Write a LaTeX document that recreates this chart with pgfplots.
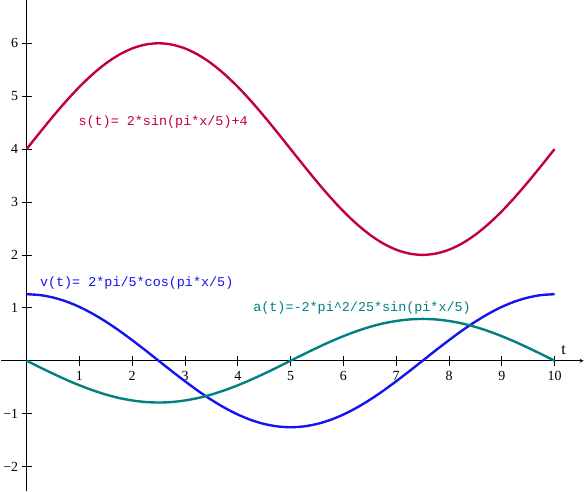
\documentclass[border=0pt]{standalone}
\usepackage{pgfplots}
\pgfplotsset{compat=1.18}
\usepackage{fontspec}
\setmainfont{Liberation Serif}
\setmonofont{Liberation Mono}
\definecolor{scol}{RGB}{192,0,64}
\definecolor{vcol}{RGB}{20,20,240}
\definecolor{acol}{RGB}{0,128,128}
\begin{document}
\begin{tikzpicture}
\begin{axis}[
  scale only axis, width=584bp, height=492bp,
  axis lines=middle,
  xmin=-0.49, xmax=10.55, ymin=-2.47, ymax=6.81,
  x axis line style={-stealth, thick},
  y axis line style={-, thick},
  xtick={1,...,10}, ytick={-2,-1,1,2,3,4,5,6},
  yticklabels={−2,−1,1,2,3,4,5,6},
  major tick length=10bp, tick align=center,
  tick style={black, thick},
  ticklabel style={font=\fontsize{14}{16}\selectfont},
  /pgf/number format/assume math mode=true,
  xticklabel style={yshift=-2bp},
  clip=false,
]
\addplot[scol, line width=2.4pt, smooth] coordinates {
(0,4) (0.25,4.313) (0.5,4.618) (0.75,4.908) (1,5.176) (1.25,5.414) (1.5,5.618) (1.75,5.782) (2,5.902) (2.25,5.975) (2.5,6)
(2.75,5.975) (3,5.902) (3.25,5.782) (3.5,5.618) (3.75,5.414) (4,5.176) (4.25,4.908) (4.5,4.618) (4.75,4.313) (5,4)
(5.25,3.687) (5.5,3.382) (5.75,3.092) (6,2.824) (6.25,2.586) (6.5,2.382) (6.75,2.218) (7,2.098) (7.25,2.025) (7.5,2)
(7.75,2.025) (8,2.098) (8.25,2.218) (8.5,2.382) (8.75,2.586) (9,2.824) (9.25,3.092) (9.5,3.382) (9.75,3.687) (10,4)};
\addplot[vcol, line width=2.4pt, smooth] coordinates {
(0,1.257) (0.25,1.241) (0.5,1.195) (0.75,1.120) (1,1.017) (1.25,0.889) (1.5,0.739) (1.75,0.571) (2,0.388) (2.25,0.197) (2.5,0)
(2.75,-0.197) (3,-0.388) (3.25,-0.571) (3.5,-0.739) (3.75,-0.889) (4,-1.017) (4.25,-1.120) (4.5,-1.195) (4.75,-1.241) (5,-1.257)
(5.25,-1.241) (5.5,-1.195) (5.75,-1.120) (6,-1.017) (6.25,-0.889) (6.5,-0.739) (6.75,-0.571) (7,-0.388) (7.25,-0.197) (7.5,0)
(7.75,0.197) (8,0.388) (8.25,0.571) (8.5,0.739) (8.75,0.889) (9,1.017) (9.25,1.120) (9.5,1.195) (9.75,1.241) (10,1.257)};
\addplot[acol, line width=2.4pt, smooth] coordinates {
(0,0) (0.25,-0.124) (0.5,-0.244) (0.75,-0.359) (1,-0.464) (1.25,-0.558) (1.5,-0.639) (1.75,-0.704) (2,-0.751) (2.25,-0.780) (2.5,-0.790)
(2.75,-0.780) (3,-0.751) (3.25,-0.704) (3.5,-0.639) (3.75,-0.558) (4,-0.464) (4.25,-0.359) (4.5,-0.244) (4.75,-0.124) (5,0)
(5.25,0.124) (5.5,0.244) (5.75,0.359) (6,0.464) (6.25,0.558) (6.5,0.639) (6.75,0.704) (7,0.751) (7.25,0.780) (7.5,0.790)
(7.75,0.780) (8,0.751) (8.25,0.704) (8.5,0.639) (8.75,0.558) (9,0.464) (9.25,0.359) (9.5,0.244) (9.75,0.124) (10,0)};
\node[anchor=west, inner sep=0pt, text=scol, font=\ttfamily\fontsize{13.5}{15}\selectfont] at (axis cs:0.98,4.51) {s(t)= 2*sin(pi*x/5)+4};
\node[anchor=west, inner sep=0pt, text=vcol, font=\ttfamily\fontsize{13.5}{15}\selectfont] at (axis cs:0.25,1.47) {v(t)= 2*pi/5*cos(pi*x/5)};
\node[anchor=west, inner sep=0pt, text=acol, font=\ttfamily\fontsize{13.5}{15}\selectfont] at (axis cs:4.29,1.0) {a(t)=-2*pi\textasciicircum 2/25*sin(pi*x/5)};
\node[font=\fontsize{16}{18}\selectfont] at (axis cs:10.17,0.2) {t};
\end{axis}
\end{tikzpicture}
\end{document}
